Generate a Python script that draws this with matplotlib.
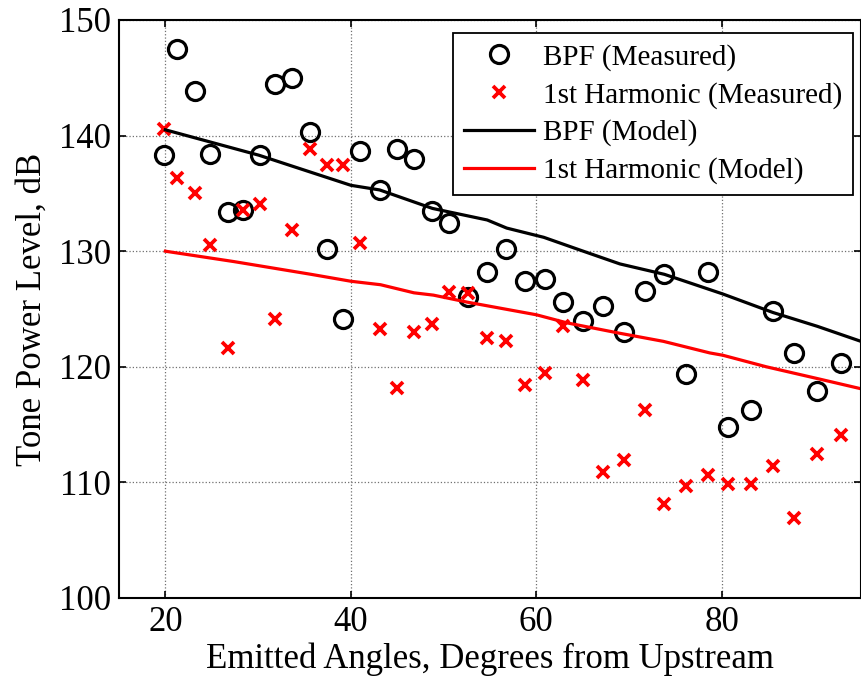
import matplotlib
matplotlib.use('Agg')
import matplotlib.pyplot as plt

# angoli di emissione (gradi da monte)
angoli = [19.9, 21.3, 23.2, 24.8, 26.7, 28.4, 30.2, 31.8, 33.7, 35.6, 37.4, 39.2,
          41.0, 43.1, 45.0, 46.8, 48.8, 50.6, 52.6, 54.7, 56.7, 58.8, 60.9, 62.9,
          65.0, 67.2, 69.5, 71.7, 73.8, 76.1, 78.5, 80.7, 83.1, 85.5, 87.8, 90.3, 92.8]

bpf_misurato = [138.3, 147.5, 143.9, 138.4, 133.4, 133.6, 138.3, 144.5, 145.0, 140.3,
                130.2, 124.1, 138.7, 135.3, 138.8, 138.0, 133.5, 132.4, 126.0, 128.2,
                130.2, 127.4, 127.6, 125.6, 124.0, 125.3, 123.0, 126.6, 128.0, 119.4,
                128.2, 114.8, 116.3, 124.8, 121.2, 117.9, 120.3]

arm1_misurato = [140.6, 136.3, 135.0, 130.5, 121.6, 133.6, 134.1, 124.1, 131.8, 138.8,
                 137.5, 137.5, 130.7, 123.3, 118.2, 123.0, 123.7, 126.5, 126.4, 122.5,
                 122.2, 118.4, 119.5, 123.5, 118.9, 110.9, 111.9, 116.3, 108.1, 109.7,
                 110.6, 109.9, 109.9, 111.4, 106.9, 112.5, 114.1]

# modelli
angoli_bpf_mod = [20, 30.1, 33.9, 40, 43.1, 48.8, 54.7, 56.8, 60.8, 64.7, 69.0,
                  73.8, 80.1, 85.5, 90.3, 95]
bpf_modello = [140.5, 138.3, 137.3, 135.7, 135.3, 133.7, 132.7, 132.0, 131.2, 130.1,
               128.9, 128.0, 126.3, 124.7, 123.5, 122.2]

angoli_arm_mod = [20, 27.4, 35.7, 40, 43.2, 46.8, 48.9, 52.5, 60, 63.3, 69.0, 73.7,
                  78.7, 80.1, 84.8, 90.2, 95]
arm1_modello = [130.0, 129.1, 128.0, 127.4, 127.1, 126.4, 126.2, 125.6, 124.5, 123.8,
                122.9, 122.2, 121.2, 121.0, 120.0, 119.0, 118.1]

plt.rcParams['font.family'] = ['Liberation Serif', 'DejaVu Serif']

fig = plt.figure(figsize=(8.61, 6.8), dpi=100)
ax = fig.add_axes([119 / 861, 82 / 680, 742 / 861, 578 / 680])

ax.plot(angoli, bpf_misurato, 'o', mfc='none', mec='black', ms=13, mew=2.3,
        label='BPF (Measured)')
ax.plot(angoli, arm1_misurato, 'x', color='red', ms=8, mew=2.7,
        label='1st Harmonic (Measured)')
ax.plot(angoli_bpf_mod, bpf_modello, '-', color='black', lw=2.3, label='BPF (Model)')
ax.plot(angoli_arm_mod, arm1_modello, '-', color='red', lw=2.3,
        label='1st Harmonic (Model)')

ax.set_xlim(15, 95)
ax.set_ylim(100, 150)
ax.set_xticks([20, 40, 60, 80])
ax.set_yticks([100, 110, 120, 130, 140, 150])
ax.grid(True, linestyle=':', color='#707070', linewidth=0.9)
ax.tick_params(direction='in', top=True, right=True, length=5, width=1.2,
               labelsize=25, pad=6)
for s in ax.spines.values():
    s.set_linewidth(1.5)

ax.set_xlabel('Emitted Angles, Degrees from Upstream', fontsize=25, labelpad=2)
ax.set_ylabel('Tone Power Level, dB', fontsize=25, labelpad=7)

leg = ax.legend(loc='upper right', bbox_to_anchor=(0.989, 0.9775), borderaxespad=0,
                fontsize=21, handlelength=2.4, handletextpad=0.3, borderpad=0.38,
                labelspacing=0.37, fancybox=False, framealpha=1, edgecolor='black')
leg.get_frame().set_linewidth(1.3)

plt.savefig('out.png', dpi=100)
